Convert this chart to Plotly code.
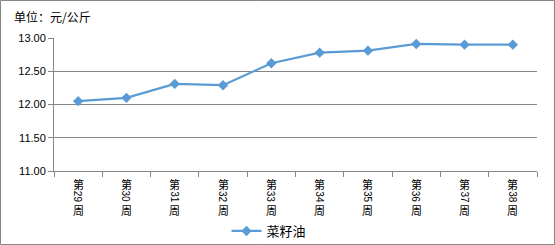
import plotly.graph_objects as go

weeks = ["29", "30", "31", "32", "33", "34", "35", "36", "37", "38"]
prices = [12.05, 12.10, 12.31, 12.29, 12.62, 12.78, 12.81, 12.91, 12.90, 12.90]
series_name = "菜籽油"
unit_label = "单位：元/公斤"
y_ticks = [11.0, 11.5, 12.0, 12.5, 13.0]

cats = ["第" + w + "周" for w in weeks]

W, H = 555, 245
L, R, T, B = 54, 18, 38, 74
pw, ph = W - L - R, H - T - B

def px_x(p):
    return (p - L) / pw

def px_y(p):
    return (H - B - p) / ph

font_family = "Noto Sans CJK SC, Microsoft YaHei, sans-serif"

fig = go.Figure()
fig.add_trace(go.Scatter(
    x=cats, y=prices, mode="lines+markers", name=series_name,
    line=dict(color="#5B9BD5", width=2.25),
    marker=dict(symbol="diamond", size=8, color="#5B9BD5"),
))

annotations = [dict(
    text=unit_label, xref="paper", yref="paper",
    x=px_x(12), y=px_y(17), xanchor="left", yanchor="middle",
    showarrow=False, font=dict(size=12, family=font_family, color="#000000"),
)]
# vertical (stacked) category labels: 第 / rotated digits / 周
for c, w in zip(cats, weeks):
    annotations.append(dict(text="第", x=c, xref="x", y=px_y(184), yref="paper",
                            xanchor="center", yanchor="middle", showarrow=False,
                            font=dict(size=11, family=font_family)))
    annotations.append(dict(text=w, x=c, xref="x", y=px_y(197), yref="paper",
                            xanchor="center", yanchor="middle", showarrow=False,
                            textangle=90,
                            font=dict(size=10, family="Liberation Sans, Arial, sans-serif")))
    annotations.append(dict(text="周", x=c, xref="x", y=px_y(210), yref="paper",
                            xanchor="center", yanchor="middle", showarrow=False,
                            font=dict(size=11, family=font_family)))

fig.update_layout(
    width=W, height=H,
    margin=dict(l=L, r=R, t=T, b=B, autoexpand=False),
    paper_bgcolor="white", plot_bgcolor="white",
    font=dict(family=font_family, color="#000000", size=11),
    showlegend=True,
    legend=dict(orientation="h", x=px_x(269), xanchor="center",
                y=px_y(231), yanchor="middle",
                font=dict(size=13, family=font_family),
                bgcolor="rgba(0,0,0,0)"),
    xaxis=dict(
        type="category", tickmode="array", tickvals=cats, showticklabels=False,
        showline=True, linecolor="#868686", linewidth=1,
        ticks="outside", tickson="boundaries", ticklen=5, tickcolor="#868686",
        showgrid=False, automargin=False, range=[-0.5, 9.5], fixedrange=True,
    ),
    yaxis=dict(
        range=[11.0, 13.0], tickvals=y_ticks, tickformat=".2f",
        showline=True, linecolor="#868686", linewidth=1,
        ticks="outside", ticklen=5, tickcolor="#868686",
        showgrid=True, gridcolor="#868686", gridwidth=1, automargin=False,
        zeroline=False, tickfont=dict(size=11, family="Liberation Sans, Arial, sans-serif"),
    ),
    annotations=annotations,
    shapes=[dict(
        type="rect", xref="paper", yref="paper",
        x0=px_x(0.5), x1=px_x(554.5), y0=px_y(244.5), y1=px_y(0.5),
        line=dict(color="#868686", width=1), layer="below",
    )],
)

fig.write_html("out.html")
